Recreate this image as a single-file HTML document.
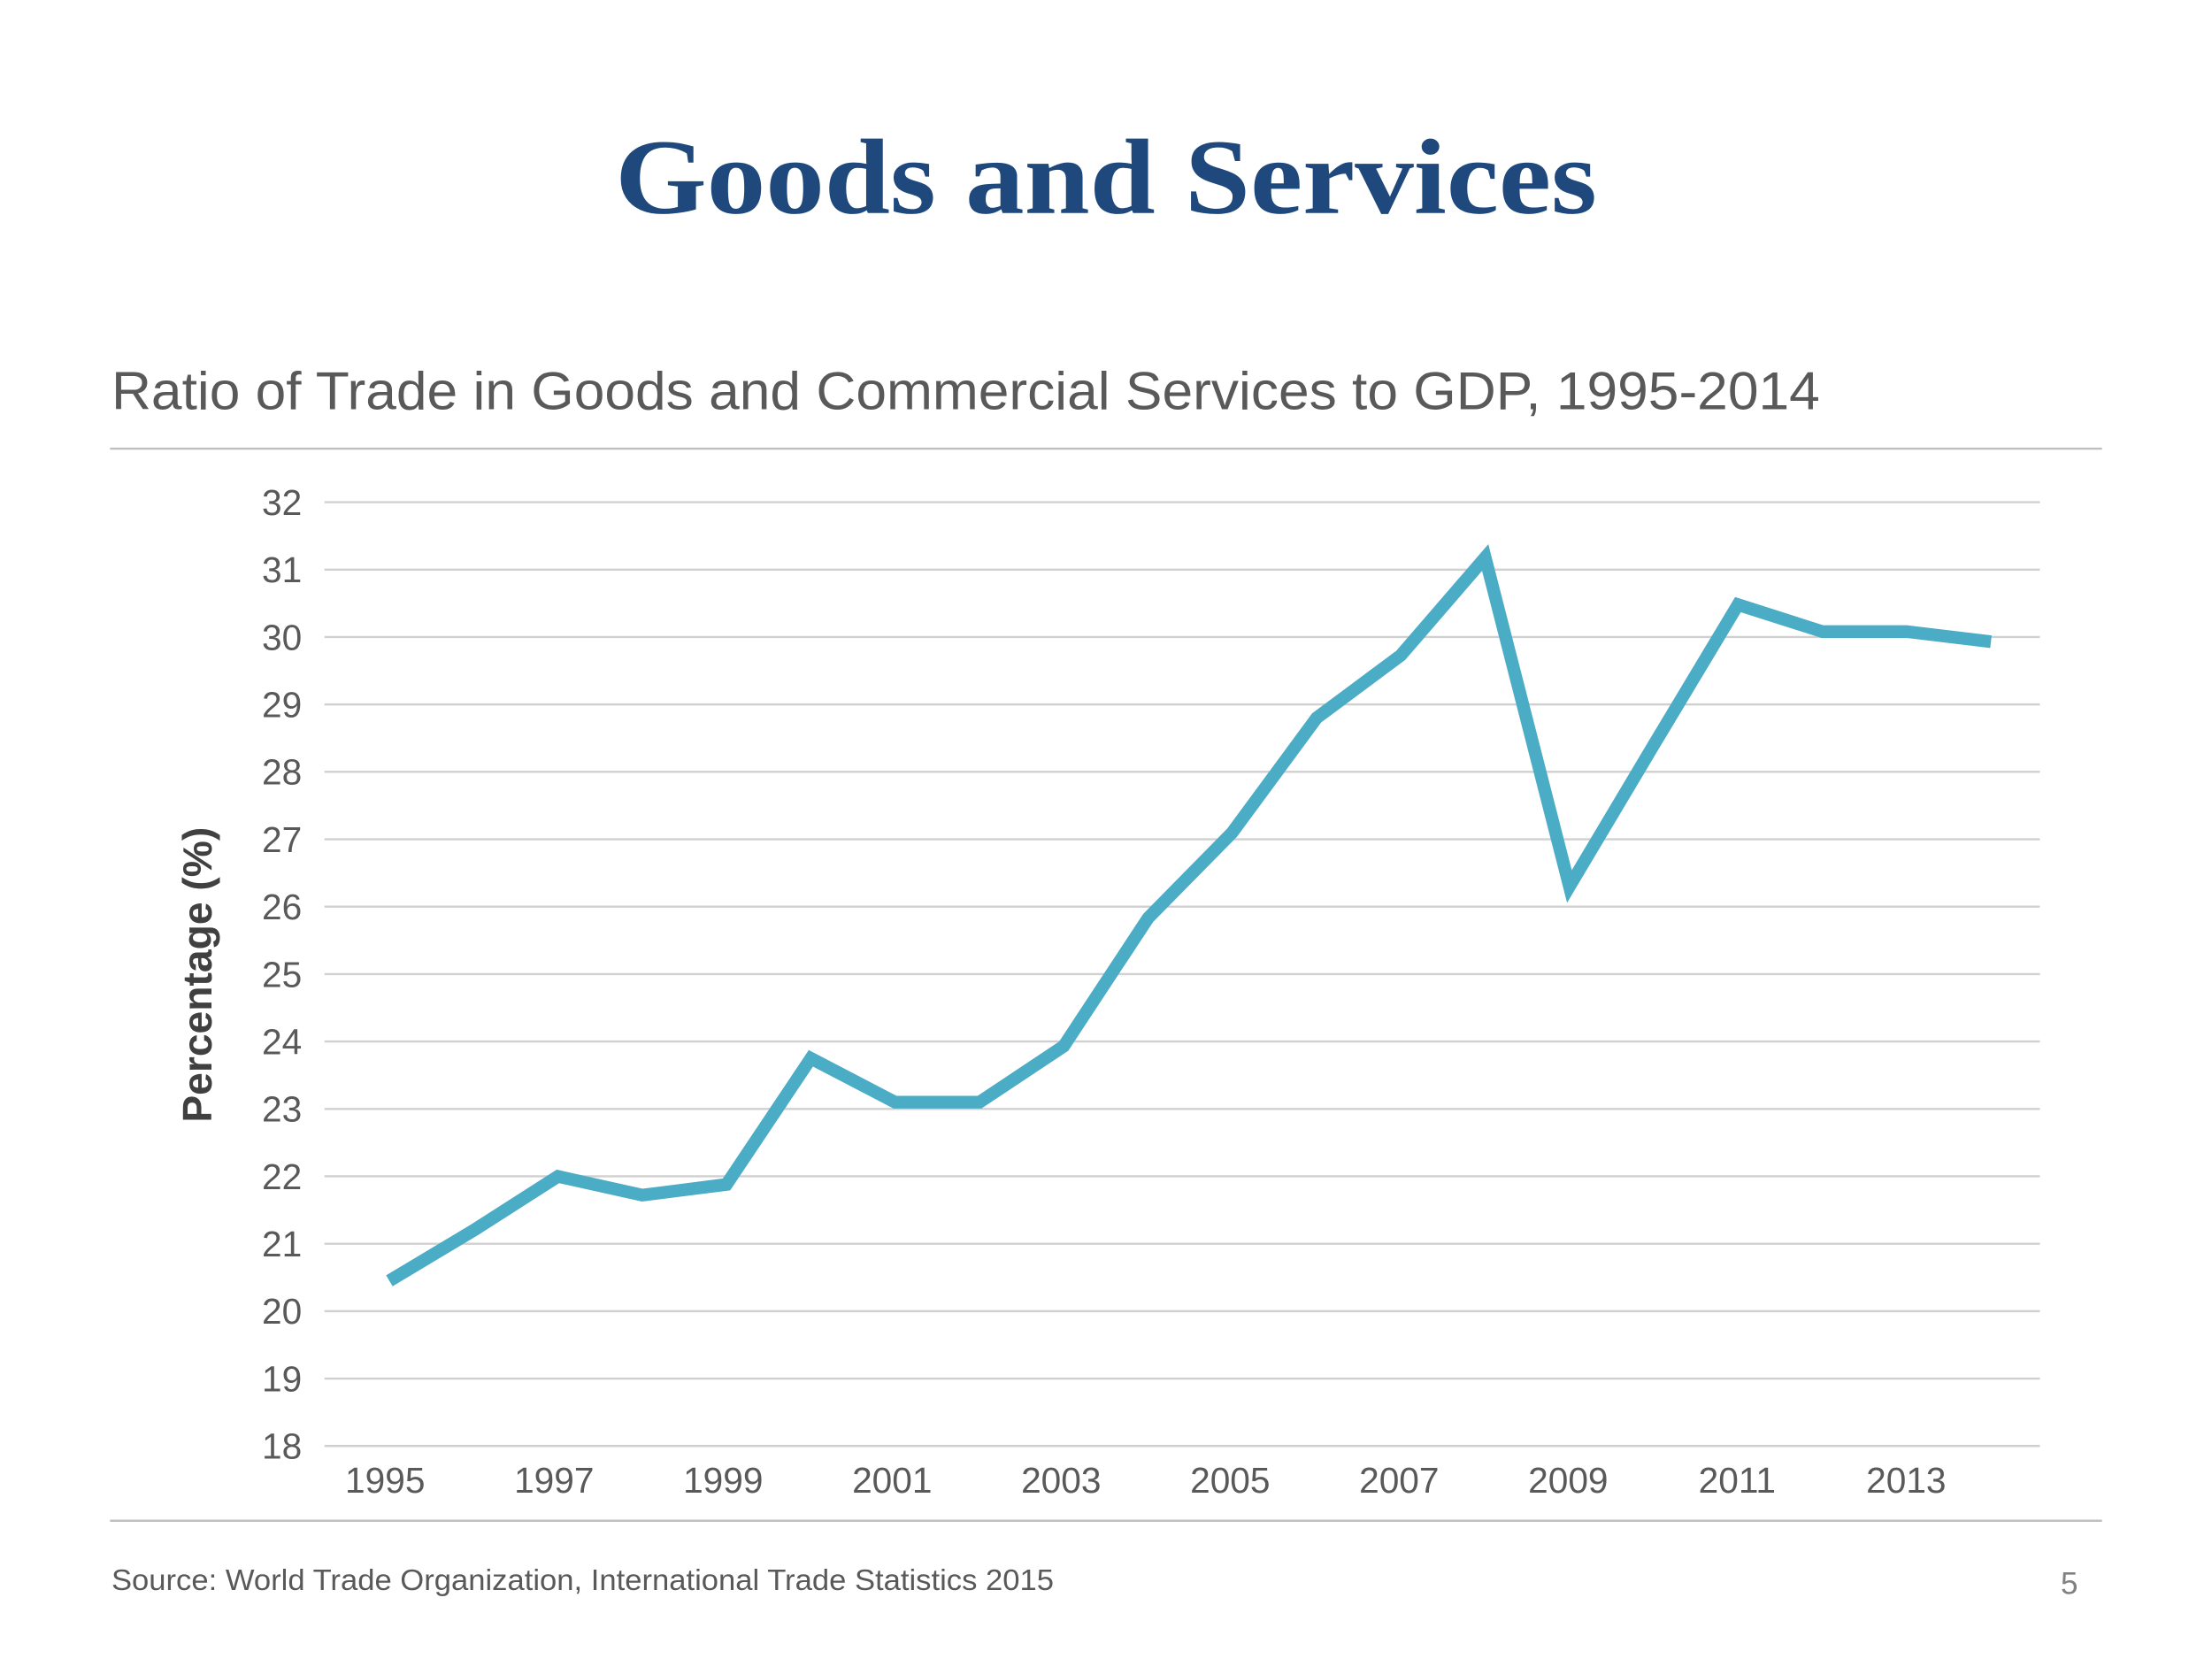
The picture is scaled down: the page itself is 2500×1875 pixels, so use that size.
<!DOCTYPE html>
<html><head><meta charset="utf-8"><style>
html,body{margin:0;padding:0;background:#fff;}
svg{display:block;}
</style></head><body>
<svg id="chart" width="2500" height="1875" viewBox="0 0 1568 1176" preserveAspectRatio="none" xmlns="http://www.w3.org/2000/svg">
<rect width="1568" height="1176" fill="#fff"/>
<text x="436" y="151" textLength="696" lengthAdjust="spacingAndGlyphs" font-family="'Liberation Serif', serif" font-weight="bold" font-size="76" fill="#1f497d">Goods and Services</text>
<text x="79" y="290" textLength="1211" lengthAdjust="spacingAndGlyphs" font-family="'Liberation Sans', sans-serif" font-size="38" fill="#595959">Ratio of Trade in Goods and Commercial Services to GDP, 1995-2014</text>
<line x1="78" y1="318" x2="1490" y2="318" stroke="#bfbfbf" stroke-width="1.5"/>
<g id="grid"></g>
<g id="ylabels"></g>
<g id="xlabels"></g>
<text transform="translate(150,691) rotate(-90)" text-anchor="middle" font-family="'Liberation Sans', sans-serif" font-weight="bold" font-size="29" fill="#404040">Percentage (%)</text>
<path id="series" fill="none" stroke="#4bacc6" stroke-width="9" stroke-linejoin="miter"/>
<line x1="78" y1="1078" x2="1490" y2="1078" stroke="#bfbfbf" stroke-width="1.5"/>
<text x="79" y="1127" textLength="668" lengthAdjust="spacingAndGlyphs" font-family="'Liberation Sans', sans-serif" font-size="21" fill="#595959">Source: World Trade Organization, International Trade Statistics 2015</text>
<text x="1473" y="1130" text-anchor="end" font-family="'Liberation Sans', sans-serif" font-size="22" fill="#808080">5</text>
</svg>
<script>
const years = [1995,1996,1997,1998,1999,2000,2001,2002,2003,2004,2005,2006,2007,2008,2009,2010,2011,2012,2013,2014];
const values = [20.45,21.2,22.0,21.72,21.88,23.75,23.1,23.1,23.93,25.83,27.1,28.8,29.73,31.18,26.3,28.4,30.48,30.08,30.08,29.93];
const yTicks = [18,19,20,21,22,23,24,25,26,27,28,29,30,31,32];
const xTickLabels = ["1995","1997","1999","2001","2003","2005","2007","2009","2011","2013"];
const NS = "http://www.w3.org/2000/svg";
const yMin = 18, yMax = 32, yTop = 356, yBot = 1025;
function yScale(v){ return yBot - (v - yMin) / (yMax - yMin) * (yBot - yTop); }
function xScale(i){ return 276 + i * 59.75; }
const grid = document.getElementById('grid');
const yl = document.getElementById('ylabels');
yTicks.forEach(t => {
  const l = document.createElementNS(NS,'line');
  
  
  l.setAttribute('x1',230); l.setAttribute('x2',1446);
  l.setAttribute('y1',yScale(t)); l.setAttribute('y2',yScale(t));
  l.setAttribute('stroke','#d0d0d0'); l.setAttribute('stroke-width','1.5');
  grid.appendChild(l);
  const tx = document.createElementNS(NS,'text');
  
  
  tx.setAttribute('x',214); tx.setAttribute('y',yScale(t)+9);
  tx.setAttribute('text-anchor','end');
  tx.setAttribute('font-family',"'Liberation Sans', sans-serif");
  tx.setAttribute('font-size','25.5'); tx.setAttribute('fill','#595959');
  tx.textContent = t;
  yl.appendChild(tx);
});
const xl = document.getElementById('xlabels');
xTickLabels.forEach(lbl => {
  const i = years.indexOf(+lbl);
  const tx = document.createElementNS(NS,'text');
  
  
  tx.setAttribute('x',xScale(i)-3 + i*0.15); tx.setAttribute('y',1058);
  tx.setAttribute('text-anchor','middle');
  tx.setAttribute('font-family',"'Liberation Sans', sans-serif");
  tx.setAttribute('font-size','25.5'); tx.setAttribute('fill','#595959');
  tx.textContent = lbl;
  xl.appendChild(tx);
});
document.getElementById('series').setAttribute('d', values.map((v,i)=>(i?'L':'M')+xScale(i).toFixed(1)+','+yScale(v).toFixed(1)).join(' '));
</script>
</body></html>
